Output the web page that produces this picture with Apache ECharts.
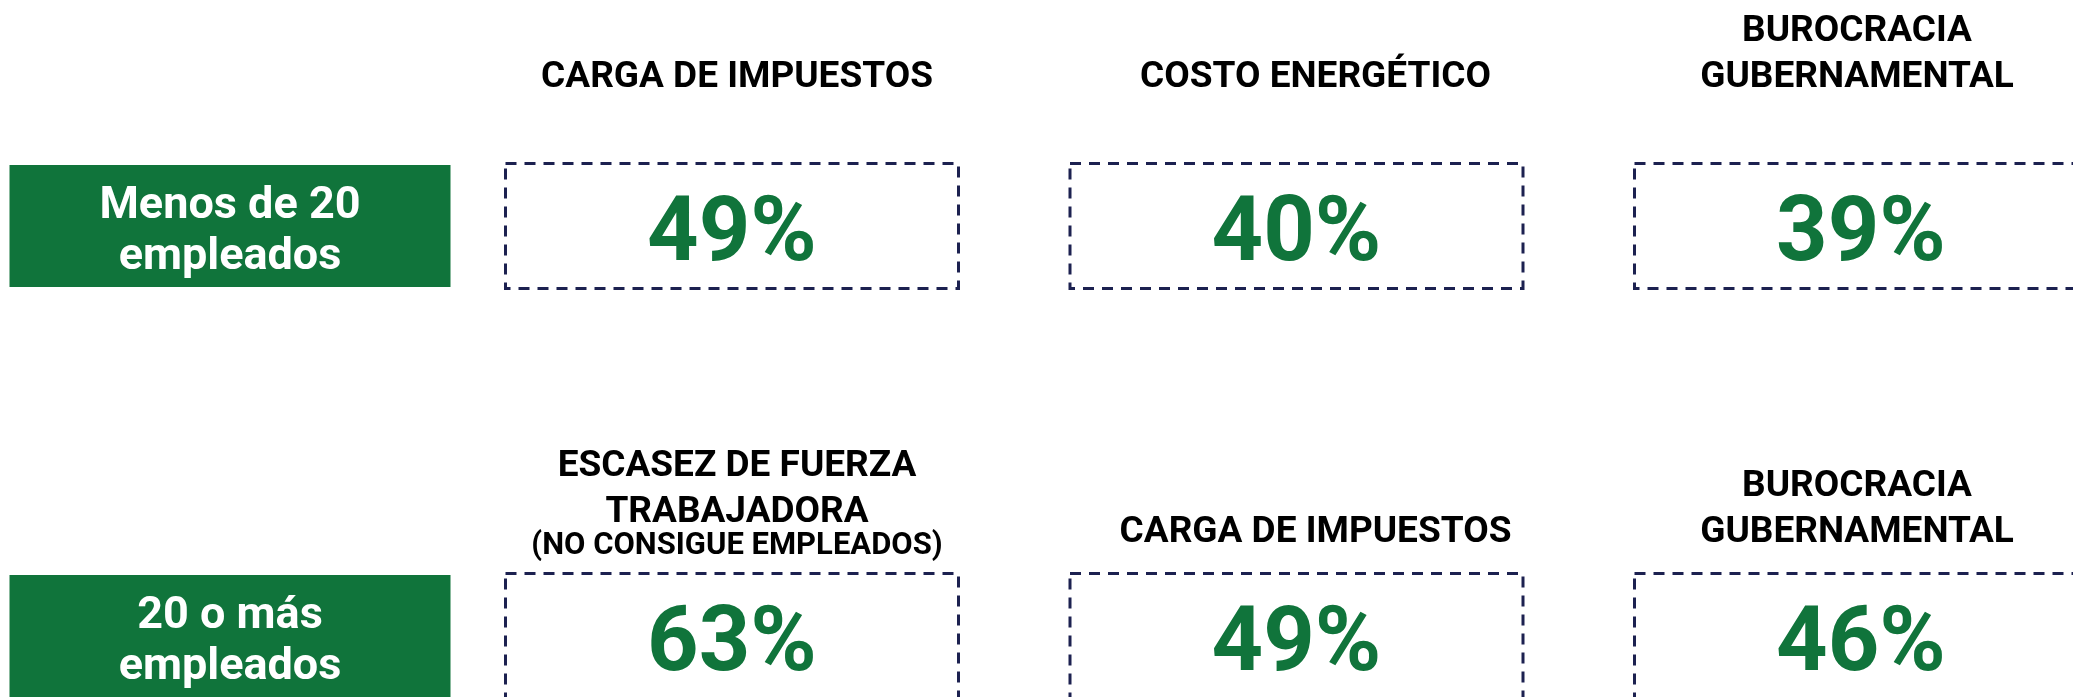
<!DOCTYPE html>
<html>
<head>
<meta charset="utf-8">
<script src="https://cdn.jsdelivr.net/npm/echarts@6/dist/echarts.min.js"></script>
<style>
  html, body { margin: 0; padding: 0; background: #ffffff; }
  #chart { width: 2073px; height: 697px; }
</style>
</head>
<body>
<div id="chart"></div>
<script>
// ---- data ----
const ROW_LABELS = ['Menos de 20\nempleados', '20 o más\nempleados'];
const COLUMNS = ['1', '2', '3'];
const TITLES_SMALL = ['CARGA DE IMPUESTOS', 'COSTO ENERGÉTICO', 'BUROCRACIA\nGUBERNAMENTAL'];
const VALUES_SMALL = [49, 40, 39];
const TITLES_LARGE = ['ESCASEZ DE FUERZA\nTRABAJADORA\n{s|(NO CONSIGUE EMPLEADOS)}', 'CARGA DE IMPUESTOS', 'BUROCRACIA\nGUBERNAMENTAL'];
const VALUES_LARGE = [63, 49, 46];

// ---- style / layout ----
const GREEN = '#10743b';
const NAVY = '#1c2150';
const FONT = 'Roboto, "Liberation Sans", sans-serif';
const BOX_W = 453, BOX_H = 125;
const TITLE_GAP = [125, 80];
const TITLE_DX = [5, 19, -4];

const ROWS_DATA = [
  { titles: TITLES_SMALL, values: VALUES_SMALL },
  { titles: TITLES_LARGE, values: VALUES_LARGE }
];
const cells = [];
ROWS_DATA.forEach((row, r) => {
  row.values.forEach((v, c) => cells.push({ value: [c, r, v], title: row.titles[c] }));
});

const chart = echarts.init(document.getElementById('chart'), null, { renderer: 'canvas' });
chart.setOption({
  backgroundColor: '#ffffff',
  animation: false,
  grid: { left: 732, right: 212, top: 226, bottom: 59 },
  xAxis: {
    type: 'category', data: COLUMNS, boundaryGap: false, show: false
  },
  yAxis: {
    type: 'category', data: ROW_LABELS, inverse: true, boundaryGap: false,
    axisLine: { show: false }, axisTick: { show: false }, splitLine: { show: false },
    axisLabel: {
      align: 'center', verticalAlign: 'middle', margin: 502,
      formatter: function (v) {
        return v.split('\n').map(function (l) { return '{t|' + l + '}'; }).join('\n');
      },
      rich: {
        t: { color: '#ffffff', fontFamily: FONT, fontWeight: 'bold', fontSize: 45, lineHeight: 51, align: 'center' }
      },
      backgroundColor: GREEN, width: 441, padding: [16, 0, 4, 0]
    }
  },
  series: [{
    type: 'custom',
    clip: false,
    data: cells,
    renderItem: function (params, api) {
      const c = api.value(0), r = api.value(1), v = api.value(2);
      const p = api.coord([c, r]);
      const title = cells[params.dataIndex].title;
      return {
        type: 'group',
        children: [
          {
            type: 'rect',
            shape: { x: p[0] - BOX_W / 2, y: p[1] - BOX_H / 2, width: BOX_W, height: BOX_H },
            style: { fill: 'transparent', stroke: NAVY, lineWidth: 3, lineDash: [11, 8] }
          },
          {
            type: 'text', x: p[0], y: p[1] + 11,
            style: {
              text: v + '%', fill: GREEN, fontFamily: FONT, fontWeight: 'bold', fontSize: 90,
              align: 'center', verticalAlign: 'middle'
            }
          },
          {
            type: 'text', x: p[0] + TITLE_DX[c], y: p[1] - TITLE_GAP[r],
            style: {
              text: title, fill: '#000000', fontFamily: FONT, fontWeight: 'bold', fontSize: 37,
              lineHeight: 46, align: 'center', verticalAlign: 'bottom',
              rich: { s: { fontFamily: FONT, fontWeight: 'bold', fontSize: 31, lineHeight: 20, fill: '#000000' } }
            }
          }
        ]
      };
    }
  }]
});
</script>
</body>
</html>
